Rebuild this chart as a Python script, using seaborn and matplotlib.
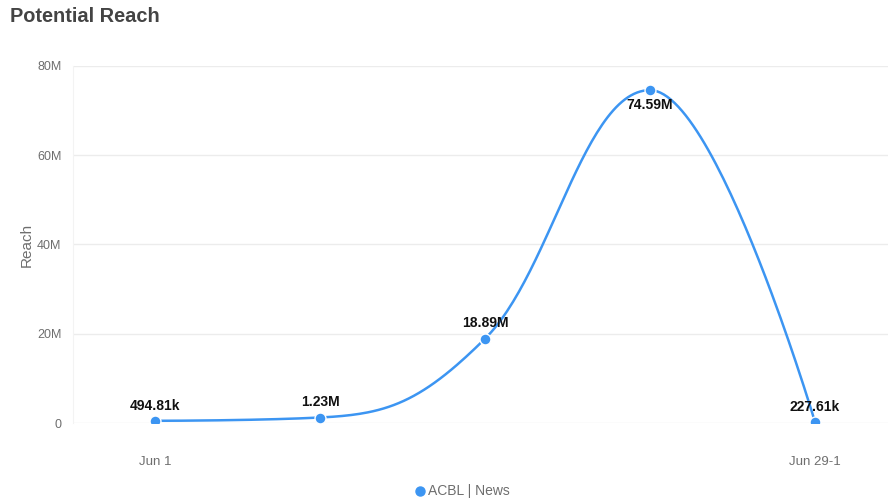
import numpy as np
import pandas as pd
import matplotlib
matplotlib.use("Agg")
import matplotlib.pyplot as plt
import seaborn as sns

# ---- data ----
categories = ["Jun 1", "", "", "", "Jun 29-1"]
reach = [494810, 1230000, 18890000, 74590000, 227610]
labels = ["494.81k", "1.23M", "18.89M", "74.59M", "227.61k"]
series_name = "ACBL | News"
y_ticks = [0, 20e6, 40e6, 60e6, 80e6]
y_tick_labels = ["0", "20M", "40M", "60M", "80M"]

BLUE = "#3c95f2"
GRAY = "#6e6e6e"


def highcharts_spline(xs, ys, smoothing=1.5, n=60):
    xs = list(map(float, xs))
    ys = list(map(float, ys))
    m = len(xs)
    lc = [None] * m
    rc = [None] * m
    denom = smoothing + 1
    for i in range(1, m - 1):
        px, py = xs[i], ys[i]
        lx, ly = xs[i - 1], ys[i - 1]
        nx, ny = xs[i + 1], ys[i + 1]
        lcx = (smoothing * px + lx) / denom
        lcy = (smoothing * py + ly) / denom
        rcx = (smoothing * px + nx) / denom
        rcy = (smoothing * py + ny) / denom
        if rcx != lcx:
            corr = (rcy - lcy) * (rcx - px) / (rcx - lcx) + py - rcy
            lcy += corr
            rcy += corr
        if lcy > ly and lcy > py:
            lcy = max(ly, py)
            rcy = 2 * py - lcy
        elif lcy < ly and lcy < py:
            lcy = min(ly, py)
            rcy = 2 * py - lcy
        if rcy > ny and rcy > py:
            rcy = max(ny, py)
            lcy = 2 * py - rcy
        elif rcy < ny and rcy < py:
            rcy = min(ny, py)
            lcy = 2 * py - rcy
        lc[i] = (lcx, lcy)
        rc[i] = (rcx, rcy)
    outx, outy = [xs[0]], [ys[0]]
    t = np.linspace(0, 1, n)[1:]
    for i in range(1, m):
        p0 = (xs[i - 1], ys[i - 1])
        p1 = rc[i - 1] if rc[i - 1] is not None else p0
        p3 = (xs[i], ys[i])
        p2 = lc[i] if lc[i] is not None else p3
        bx = (1 - t) ** 3 * p0[0] + 3 * (1 - t) ** 2 * t * p1[0] + 3 * (1 - t) * t ** 2 * p2[0] + t ** 3 * p3[0]
        by = (1 - t) ** 3 * p0[1] + 3 * (1 - t) ** 2 * t * p1[1] + 3 * (1 - t) * t ** 2 * p2[1] + t ** 3 * p3[1]
        outx.extend(bx)
        outy.extend(by)
    return np.array(outx), np.array(outy)


sns.set_theme(style="white")
plt.rcParams["font.family"] = ["Liberation Sans", "DejaVu Sans"]

W, H = 888, 498
fig = plt.figure(figsize=(W / 100, H / 100), dpi=100)
ax = fig.add_axes([72.5 / W, (H - 423) / H, 825 / W, 357 / H])

xi = np.arange(len(reach))
df = pd.DataFrame({"x": xi, "reach": reach})
sx, sy = highcharts_spline(xi, reach)
curve = pd.DataFrame({"x": sx, "y": sy})
sns.lineplot(data=curve, x="x", y="y", sort=False, ax=ax, color=BLUE, lw=1.8, zorder=3)
sns.scatterplot(data=df, x="x", y="reach", ax=ax, color=BLUE, s=62,
                edgecolor="white", linewidth=1.0, zorder=4)

ax.set_xlim(-0.5, len(reach) - 0.5)
ax.set_ylim(0, 80e6)
ax.set_yticks(y_ticks)
ax.set_yticklabels(y_tick_labels)
ax.set_xticks(xi)
ax.set_xticklabels(categories)
ax.tick_params(axis="y", length=0, pad=8, labelsize=9, labelcolor=GRAY)
ax.tick_params(axis="x", length=7, width=0.8, color="#e6e6e6", pad=17,
               labelsize=9.5, labelcolor=GRAY, direction="out")
ax.grid(axis="y", color="#ececec", lw=1.0)
ax.grid(axis="x", visible=False)
for side in ["top", "right", "bottom"]:
    ax.spines[side].set_visible(False)
ax.spines["left"].set_color("#f3f3f3")
ax.spines["left"].set_linewidth(0.8)
ax.set_xlabel("")
ax.set_ylabel("Reach", color=GRAY, fontsize=11, labelpad=2)

for x, v, lab in zip(xi, reach, labels):
    if v > 0.85 * 80e6:
        ax.annotate(lab, (x, v), xytext=(0, -11), textcoords="offset points",
                    ha="center", va="center", fontsize=10, fontweight="bold", color="#111111", zorder=5)
    else:
        ax.annotate(lab, (x, v), xytext=(0, 11), textcoords="offset points",
                    ha="center", va="center", fontsize=10, fontweight="bold", color="#111111", zorder=5)

fig.text(10 / W, 1 - 17 / H, "Potential Reach", fontsize=14.4, fontweight="bold",
         color="#444444", ha="left", va="center")

# legend
fig.text(428 / W, 1 - 491 / H, series_name, fontsize=10, color=GRAY, ha="left", va="center")
fig.add_artist(plt.Line2D([419.5 / W], [1 - 491 / H], marker="o", color=BLUE,
                          markersize=6.5, transform=fig.transFigure, linestyle=""))

fig.savefig("out.png", dpi=100)
